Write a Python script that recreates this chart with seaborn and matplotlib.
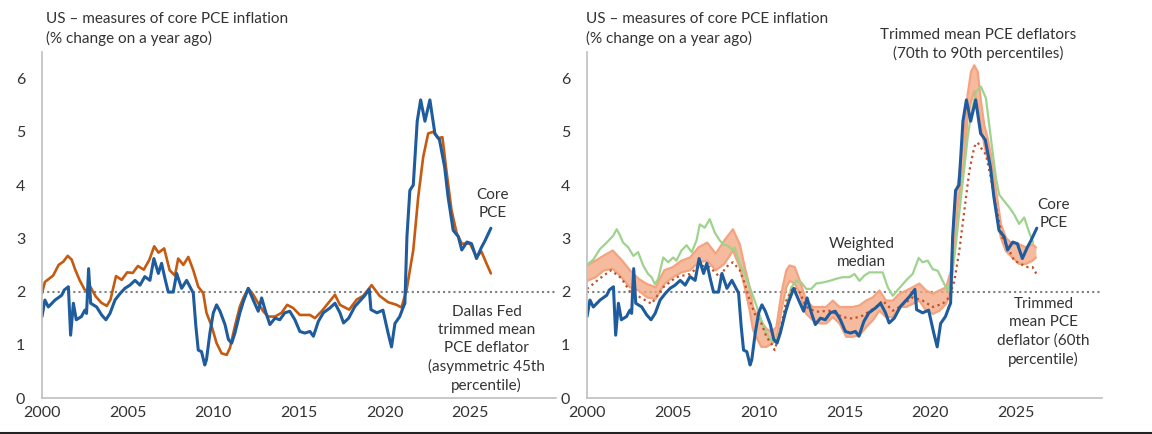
import numpy as np
import pandas as pd
import seaborn as sns
import matplotlib
matplotlib.use("Agg")
import matplotlib.pyplot as plt
from matplotlib.lines import Line2D

# ---- data (% y/y) ----
core_dates = [2000.0, 2000.17, 2000.37, 2000.76, 2001.15, 2001.3, 2001.54, 2001.67, 2001.83, 2002.0,
              2002.3, 2002.5, 2002.6, 2002.72, 2002.84, 2003.19, 2003.48, 2003.73, 2003.97, 2004.26,
              2004.55, 2004.84, 2005.13, 2005.43, 2005.72, 2006.0, 2006.3, 2006.53, 2006.79, 2006.98,
              2007.18, 2007.37, 2007.66, 2007.86, 2008.15, 2008.44, 2008.83, 2008.98, 2009.12, 2009.31,
              2009.5, 2009.6, 2009.8, 2010.0, 2010.19, 2010.39, 2010.68, 2010.88, 2011.07, 2011.26,
              2011.55, 2011.75, 2012.04, 2012.33, 2012.62, 2012.82, 2013.07, 2013.3, 2013.6, 2013.88,
              2014.17, 2014.46, 2014.76, 2015.05, 2015.34, 2015.64, 2015.84, 2016.13, 2016.42, 2016.8,
              2017.1, 2017.39, 2017.6, 2017.9, 2018.26, 2018.8, 2019.1, 2019.2, 2019.55, 2019.9,
              2020.2, 2020.4, 2020.6, 2020.88, 2021.1, 2021.18, 2021.3, 2021.47, 2021.67, 2021.9,
              2022.1, 2022.35, 2022.64, 2022.93, 2023.2, 2023.5, 2023.7, 2024.0, 2024.3, 2024.5,
              2024.8, 2025.07, 2025.36, 2025.65, 2025.85, 2026.2]
core_pce = [1.53, 1.84, 1.71, 1.84, 1.93, 2.03, 2.09, 1.18, 1.78, 1.47,
            1.53, 1.65, 1.59, 2.43, 1.78, 1.71, 1.56, 1.47, 1.59, 1.84,
            1.96, 2.06, 2.12, 2.21, 2.12, 2.28, 2.21, 2.62, 2.34, 2.53,
            2.24, 1.99, 1.99, 2.34, 2.06, 2.21, 1.97, 1.35, 0.90, 0.87,
            0.62, 0.72, 1.22, 1.60, 1.75, 1.63, 1.38, 1.10, 1.03, 1.22,
            1.60, 1.81, 2.06, 1.84, 1.63, 1.88, 1.60, 1.38, 1.50, 1.47,
            1.60, 1.63, 1.47, 1.25, 1.22, 1.25, 1.16, 1.44, 1.60, 1.69,
            1.78, 1.60, 1.41, 1.50, 1.72, 1.91, 2.04, 1.66, 1.60, 1.65,
            1.22, 0.96, 1.40, 1.53, 1.72, 1.78, 3.03, 3.90, 4.00, 5.20,
            5.60, 5.20, 5.60, 4.97, 4.85, 4.34, 3.78, 3.15, 3.03, 2.78,
            2.93, 2.90, 2.62, 2.83, 2.95, 3.19]

dallas_dates = [2000.0, 2000.17, 2000.65, 2000.97, 2001.24, 2001.5, 2001.73, 2001.94, 2002.2, 2002.48,
                2002.7, 2002.8, 2003.13, 2003.46, 2003.78, 2004.0, 2004.32, 2004.65, 2004.97, 2005.3,
                2005.6, 2005.94, 2006.27, 2006.55, 2006.8, 2007.13, 2007.45, 2007.76, 2007.95, 2008.25,
                2008.54, 2008.83, 2009.12, 2009.41, 2009.6, 2009.9, 2010.19, 2010.48, 2010.78, 2010.97,
                2011.26, 2011.55, 2011.75, 2012.04, 2012.33, 2012.62, 2012.91, 2013.2, 2013.6, 2013.98,
                2014.31, 2014.66, 2015.05, 2015.64, 2015.93, 2016.32, 2016.7, 2017.1, 2017.39, 2017.93,
                2018.37, 2018.75, 2019.24, 2019.7, 2020.2, 2020.7, 2020.98, 2021.28, 2021.67, 2021.96,
                2022.25, 2022.54, 2022.83, 2023.12, 2023.37, 2023.6, 2023.9, 2024.2, 2024.5, 2024.98,
                2025.36, 2025.65, 2025.94, 2026.2]
dallas_fed = [1.97, 2.18, 2.30, 2.50, 2.56, 2.67, 2.60, 2.41, 2.21, 2.04,
              1.99, 2.10, 1.91, 1.79, 1.73, 1.85, 2.29, 2.22, 2.36, 2.35,
              2.48, 2.41, 2.60, 2.85, 2.73, 2.81, 2.40, 2.30, 2.62, 2.50,
              2.65, 2.40, 2.09, 1.97, 1.60, 1.35, 1.03, 0.84, 0.81, 0.94,
              1.35, 1.72, 1.88, 2.06, 1.94, 1.78, 1.63, 1.53, 1.53, 1.60,
              1.75, 1.69, 1.56, 1.56, 1.50, 1.63, 1.78, 1.94, 1.75, 1.66,
              1.85, 1.92, 2.12, 1.92, 1.80, 1.75, 1.70, 2.03, 2.78, 3.78,
              4.53, 4.97, 5.00, 4.88, 4.90, 4.28, 3.53, 3.10, 2.90, 2.90,
              2.65, 2.75, 2.53, 2.34]

median_dates = [2000.0, 2000.37, 2000.76, 2001.15, 2001.53, 2001.73, 2001.9, 2002.1, 2002.4, 2002.7,
                2002.98, 2003.27, 2003.56, 2003.76, 2003.95, 2004.15, 2004.44, 2004.73, 2005.02, 2005.21,
                2005.5, 2005.8, 2006.1, 2006.38, 2006.57, 2006.86, 2007.15, 2007.44, 2007.73, 2007.93,
                2008.2, 2008.5, 2008.6, 2008.9, 2009.19, 2009.48, 2009.77, 2010.16, 2010.45, 2010.74,
                2011.03, 2011.32, 2011.61, 2011.9, 2012.19, 2012.48, 2012.77, 2013.06, 2013.35, 2013.74,
                2014.13, 2014.52, 2014.9, 2015.29, 2015.58, 2015.87, 2016.16, 2016.45, 2016.84, 2017.22,
                2017.52, 2017.81, 2018.1, 2018.59, 2018.97, 2019.32, 2019.55, 2019.85, 2020.14, 2020.43,
                2020.72, 2021.0, 2021.2, 2021.4, 2021.59, 2021.78, 2021.98, 2022.17, 2022.37, 2022.66,
                2022.95, 2023.24, 2023.43, 2023.62, 2023.82, 2024.01, 2024.3, 2024.6, 2024.88, 2025.17,
                2025.47, 2025.76, 2025.99]
weighted_median = [2.50, 2.60, 2.80, 2.92, 3.05, 3.17, 3.07, 2.92, 2.83, 2.67,
                   2.74, 2.49, 2.33, 2.27, 2.14, 2.24, 2.64, 2.55, 2.64, 2.58,
                   2.77, 2.87, 2.74, 2.96, 3.26, 3.20, 3.36, 3.11, 2.96, 2.89,
                   2.86, 2.78, 2.83, 2.52, 2.33, 2.08, 1.83, 1.46, 1.21, 1.08,
                   1.05, 1.33, 1.71, 2.08, 2.20, 2.17, 2.05, 2.05, 2.15, 2.17,
                   2.20, 2.24, 2.27, 2.27, 2.33, 2.20, 2.30, 2.36, 2.36, 2.36,
                   2.08, 1.92, 2.03, 2.21, 2.33, 2.63, 2.55, 2.58, 2.42, 2.39,
                   2.20, 2.02, 2.20, 2.64, 3.20, 3.76, 4.32, 4.88, 5.32, 5.76,
                   5.85, 5.63, 5.13, 4.64, 4.14, 3.82, 3.70, 3.58, 3.45, 3.27,
                   3.39, 3.11, 2.92]

band_dates = [2000.0, 2000.5, 2001.0, 2001.5, 2002.0, 2002.5, 2003.0, 2003.5, 2004.0, 2004.5,
              2005.0, 2005.5, 2006.0, 2006.5, 2007.0, 2007.5, 2008.0, 2008.5, 2008.9, 2009.19,
              2009.48, 2009.67, 2009.96, 2010.16, 2010.45, 2010.74, 2011.03, 2011.32, 2011.61, 2011.8,
              2012.1, 2012.39, 2012.77, 2013.16, 2013.55, 2013.93, 2014.32, 2014.71, 2015.1, 2015.48,
              2015.87, 2016.26, 2016.65, 2017.03, 2017.42, 2017.81, 2018.2, 2018.6, 2018.97, 2019.36,
              2019.75, 2020.14, 2020.53, 2020.92, 2021.2, 2021.4, 2021.59, 2021.78, 2021.98, 2022.17,
              2022.37, 2022.56, 2022.76, 2022.95, 2023.14, 2023.34, 2023.53, 2023.72, 2023.92, 2024.11,
              2024.4, 2024.78, 2025.17, 2025.56, 2025.95, 2026.15]
trim_90th = [2.49, 2.58, 2.68, 2.77, 2.60, 2.40, 2.24, 2.14, 2.08, 2.40,
             2.46, 2.58, 2.64, 2.83, 2.92, 2.71, 2.96, 3.17, 2.89, 2.46,
             2.08, 1.71, 1.52, 1.43, 1.30, 1.24, 1.33, 1.96, 2.40, 2.49,
             2.46, 2.21, 1.83, 1.71, 1.71, 1.71, 1.83, 1.71, 1.71, 1.71,
             1.74, 1.83, 1.89, 2.02, 1.83, 1.83, 1.96, 2.02, 2.08, 2.15,
             2.02, 1.96, 2.02, 2.08, 2.39, 3.50, 4.00, 4.44, 4.94, 5.69,
             6.13, 6.25, 6.13, 5.57, 5.13, 4.88, 4.57, 4.13, 3.70, 3.27,
             3.01, 2.89, 2.89, 2.83, 2.89, 2.83]
trim_70th = [2.20, 2.27, 2.40, 2.43, 2.27, 2.08, 2.02, 1.89, 1.86, 2.14,
             2.27, 2.36, 2.40, 2.55, 2.58, 2.40, 2.52, 2.77, 2.46, 2.08,
             1.64, 1.28, 1.08, 0.96, 0.96, 1.02, 1.08, 1.64, 2.08, 2.20,
             2.15, 1.96, 1.58, 1.46, 1.40, 1.40, 1.52, 1.40, 1.15, 1.15,
             1.18, 1.33, 1.46, 1.64, 1.52, 1.52, 1.71, 1.71, 1.77, 1.83,
             1.64, 1.58, 1.64, 1.77, 2.02, 2.77, 3.58, 4.00, 4.44, 5.26,
             5.57, 5.76, 5.51, 5.13, 4.75, 4.50, 4.26, 3.76, 3.33, 3.01,
             2.76, 2.64, 2.52, 2.52, 2.58, 2.64]

p60_dates = [2000.0, 2000.2, 2000.76, 2001.4, 2002.0, 2002.5, 2003.27, 2003.76, 2004.44, 2005.2,
             2006.0, 2006.57, 2007.15, 2007.73, 2008.1, 2008.5, 2008.9, 2009.19, 2009.48, 2009.77,
             2010.16, 2010.45, 2010.74, 2010.93, 2011.22, 2011.61, 2012.0, 2012.39, 2012.77, 2013.35,
             2014.13, 2014.9, 2015.48, 2016.07, 2016.84, 2017.22, 2017.81, 2018.2, 2018.97, 2019.55,
             2020.14, 2020.72, 2021.1, 2021.4, 2021.69, 2021.98, 2022.27, 2022.56, 2022.76, 2022.95,
             2023.24, 2023.53, 2023.72, 2023.92, 2024.2, 2024.6, 2024.88, 2025.27, 2025.56, 2025.95,
             2026.24]
trim_60th = [2.05, 2.10, 2.25, 2.40, 2.25, 2.00, 1.86, 1.77, 2.08, 2.27,
             2.33, 2.49, 2.46, 2.27, 2.46, 2.55, 2.40, 2.15, 1.83, 1.58,
             1.40, 1.15, 1.02, 0.90, 1.21, 1.83, 2.08, 1.99, 1.71, 1.62,
             1.64, 1.52, 1.49, 1.55, 1.71, 1.83, 1.64, 1.71, 1.89, 1.83,
             1.71, 1.77, 1.89, 2.20, 2.77, 3.52, 4.26, 4.72, 4.80, 4.70,
             4.57, 4.13, 3.76, 3.45, 3.01, 2.77, 2.58, 2.52, 2.46, 2.46,
             2.30]

year_ticks = [2000, 2005, 2010, 2015, 2020, 2025]
val_ticks = [0, 1, 2, 3, 4, 5, 6]

BLUE = "#1F5C9E"
DORANGE = "#C55A11"
GREEN = "#9ED38E"
SALMON = "#F4A37E"
DOTRED = "#C0502A"
TXT = "#333333"

sns.set_style("white")
plt.rcParams['font.family'] = ['Lato', 'DejaVu Sans']

fig = plt.figure(figsize=(11.52, 4.34), dpi=100)
ax1 = fig.add_axes([42 / 1152, 1 - 398 / 434, 514 / 1152, 346 / 434])
ax2 = fig.add_axes([587 / 1152, 1 - 398 / 434, 515 / 1152, 346 / 434])

core_df = pd.DataFrame({"date": core_dates, "value": core_pce})
dallas_df = pd.DataFrame({"date": dallas_dates, "value": dallas_fed})

# left panel
sns.lineplot(data=dallas_df, x="date", y="value", ax=ax1, color=DORANGE, lw=1.9, estimator=None)
sns.lineplot(data=core_df, x="date", y="value", ax=ax1, color=BLUE, lw=2.2, estimator=None)

# right panel
ax2.fill_between(band_dates, trim_70th, trim_90th, color=SALMON, alpha=0.75, lw=0)
sns.lineplot(x=band_dates, y=trim_90th, ax=ax2, color=SALMON, lw=1.6, estimator=None)
sns.lineplot(x=band_dates, y=trim_70th, ax=ax2, color=SALMON, lw=1.6, estimator=None)
sns.lineplot(x=median_dates, y=weighted_median, ax=ax2, color=GREEN, lw=1.6, estimator=None)
sns.lineplot(x=p60_dates, y=trim_60th, ax=ax2, color=DOTRED, lw=1.6, ls=(0, (1, 1.6)), estimator=None)
sns.lineplot(data=core_df, x="date", y="value", ax=ax2, color=BLUE, lw=2.2, estimator=None)

for ax in (ax1, ax2):
    ax.axhline(2, color="#7F7F7F", lw=1.5, ls=(0, (1, 1.5)), zorder=0.5)
    ax.set_xlim(2000, 2030)
    ax.set_ylim(0, 6.5)
    ax.set_xticks(year_ticks)
    ax.set_yticks(val_ticks)
    ax.set_xlabel("")
    ax.set_ylabel("")
    for s in ("top", "right"):
        ax.spines[s].set_visible(False)
    for s in ("left", "bottom"):
        ax.spines[s].set_color("#BFBFBF")
        ax.spines[s].set_linewidth(1.2)
    ax.tick_params(axis="x", direction="inout", length=7, width=1, color="#BFBFBF",
                   labelsize=11.5, labelcolor=TXT, pad=2)
    ax.tick_params(axis="y", direction="out", length=4, width=1, color="#BFBFBF",
                   labelsize=11.5, labelcolor=TXT, pad=8)
    ax.set_facecolor("none")

fs = 11
# annotations, left
ax1.text(2026.3, 3.64, "Core\nPCE", ha="center", va="center", fontsize=fs, color=TXT, linespacing=1.4)
ax1.text(2025.95, 0.92, "Dallas Fed\ntrimmed mean\nPCE deflator\n(asymmetric 45th\npercentile)",
         ha="center", va="center", fontsize=fs, color=TXT, linespacing=1.35)
# annotations, right
ax2.text(2016.0, 2.72, "Weighted\nmedian", ha="center", va="center", fontsize=fs, color=TXT, linespacing=1.35)
ax2.text(2027.2, 3.46, "Core\nPCE", ha="center", va="center", fontsize=fs, color=TXT, linespacing=1.4)
ax2.text(2026.6, 1.24, "Trimmed\nmean PCE\ndeflator (60th\npercentile)", ha="center", va="center",
         fontsize=fs, color=TXT, linespacing=1.35)
ax2.text(2022.8, 6.64, "Trimmed mean PCE deflators\n(70th to 90th percentiles)", ha="center", va="center",
         fontsize=fs, color=TXT, linespacing=1.4, clip_on=False)

# titles
for x0 in (46, 586):
    fig.text(x0 / 1152, 1 - 29 / 434, "US \u2013 measures of core PCE inflation\n(% change on a year ago)",
             ha="left", va="center", fontsize=fs, color=TXT, linespacing=1.45)

fig.add_artist(Line2D([0, 1], [0.003, 0.003], color="#222222", lw=1.5, transform=fig.transFigure))

fig.savefig("out.png", dpi=100, facecolor="white")
